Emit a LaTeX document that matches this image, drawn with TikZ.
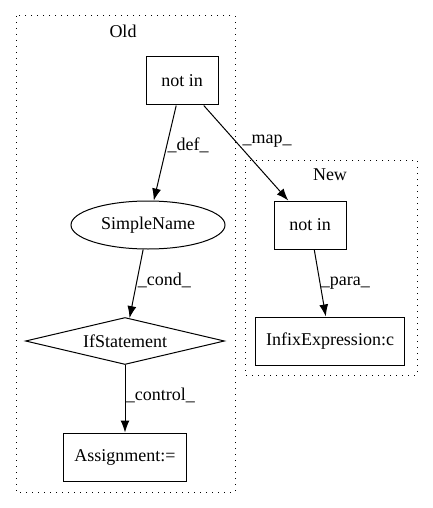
\documentclass[tikz,border=0pt]{standalone}
\usepackage{fontspec}
\setmainfont{Liberation Serif}
\usetikzlibrary{positioning}
\usetikzlibrary{shapes.geometric}
\usetikzlibrary{arrows.meta}

\tikzset{
	stmt/.style={draw, rectangle, minimum width=72pt, minimum height=48pt, inner xsep=11pt},
	cluster/.style={draw, dash pattern=on 1pt off 5pt, line width=1pt},
	edge/.style={-{Latex[length=12pt, width=9pt]}, line width=1pt}
}

\begin{document}
\begin{tikzpicture}[x=1pt, y=-1pt, font=\fontsize{18}{21}\selectfont, line width=1pt]
	\useasboundingbox (0,0) rectangle (432,508);
	% clusters
	\draw[cluster] (16,16) rectangle (235,492);
	\draw[cluster] (245,160) rectangle (417,375);
	\node (oldLbl) at (123,31) {Old};
	\node (newLbl) at (330,175) {New};
	% old graph
	\node[stmt] (oldNotIn) at (182,81) {not in};
	\node[draw, ellipse, minimum width=154pt, minimum height=48pt, inner sep=0pt] (simpleName) at (148,225) {SimpleName};
	\node[draw, diamond, aspect=4.2, minimum width=199pt, minimum height=47pt, inner sep=0pt] (ifStmt) at (125,341) {IfStatement};
	\node[stmt] (assign) at (125,457) {Assignment:=};
	% new graph
	\node[stmt] (newNotIn) at (310,225) {not in};
	\node[stmt] (infix) at (330,341) {InfixExpression:c};
	% edges
	\draw[edge] (oldNotIn) -- node[right=-3pt, pos=0.42] {\_def\_} (simpleName);
	\draw[edge] (oldNotIn) -- node[right=3pt, pos=0.38] {\_map\_} (newNotIn);
	\draw[edge] (simpleName) -- node[right=-3pt, pos=0.45] {\_cond\_} (ifStmt);
	\draw[edge] (ifStmt) -- node[right=-3pt, pos=0.45] {\_control\_} (assign);
	\draw[edge] (newNotIn) -- node[right=-3pt, pos=0.5] {\_para\_} (infix);
\end{tikzpicture}
\end{document}
